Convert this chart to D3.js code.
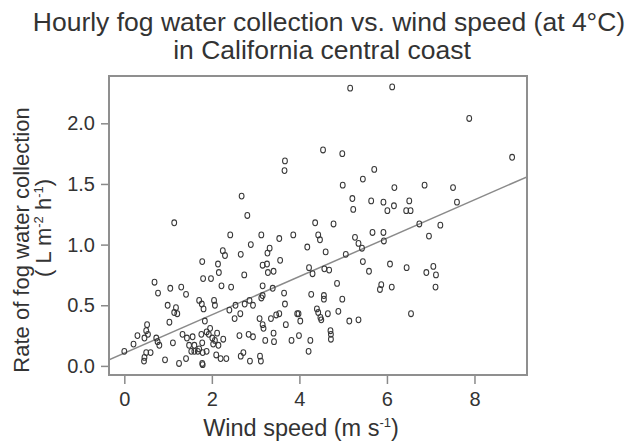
<!DOCTYPE html>
<html>
<head>
<meta charset="utf-8">
<script src="https://cdn.jsdelivr.net/npm/d3@7"></script>
<style>
  html, body { margin: 0; padding: 0; background: #fff; }
  svg { display: block; }
  text { font-family: "Liberation Sans", Arial, Helvetica, sans-serif; fill: #333; }
</style>
</head>
<body>
<svg id="chart" width="631" height="442"></svg>
<script>
// ---- data ----
const titleLines = ["Hourly fog water collection vs. wind speed (at 4\u00B0C)", "in California central coast"];
const xTicks = [0, 2, 4, 6, 8];
const yTicks = [0.0, 0.5, 1.0, 1.5, 2.0];
const xDomain = [-0.35, 9.2];
const yDomain = [-0.075, 2.39];
const fitIntercept = 0.105;
const fitSlope = 0.158;

const windSpeed = [
  3.67,3.66,2.68,2.81,1.14,5.16,6.12,7.88,8.86,4.54,
  4.98,5.71,5.45,4.99,6.17,6.86,7.51,5.21,5.64,5.92,
  6.16,6.51,5.23,6.01,6.44,6.54,7.60,4.36,4.78,6.74,
  7.22,
  1.78,1.80,0.69,0.77,1.05,1.30,1.41,0.99,1.18,1.14,
  1.21,1.71,1.77,1.03,0.52,0.50,0.54,0.46,0.30,0.21,
  0.73,0.76,0.80,1.11,1.33,1.43,1.56,1.48,0.00,0.50,
  0.60,0.46,0.45,0.93,1.25,1.41,1.60,1.68,1.76,1.78,
  1.60,1.53,1.71,
  2.42,3.13,3.54,3.86,2.89,2.25,2.30,2.66,3.32,3.27,
  3.56,3.16,3.26,2.14,2.16,2.74,3.28,3.41,1.98,2.22,
  2.44,3.16,3.39,3.16,3.13,3.65,3.67,2.05,2.07,1.81,
  2.54,2.75,2.86,2.94,2.40,2.52,2.65,1.84,3.09,3.16,
  3.35,3.47,3.54,3.95,3.69,1.88,1.93,2.01,2.07,2.26,
  2.63,2.84,2.94,3.18,3.41,3.22,3.42,3.82,3.99,1.78,
  2.15,1.88,1.79,2.10,2.33,2.72,2.66,2.87,3.10,3.12,
  2.20,1.79,1.96,2.12,2.03,
  5.67,5.92,5.27,4.43,4.47,4.18,4.60,5.35,5.93,5.43,
  5.06,5.45,5.59,6.07,4.22,4.30,4.57,4.68,4.86,5.87,
  5.84,6.11,4.27,4.56,4.56,4.98,3.98,4.02,4.40,4.43,
  4.48,4.50,4.65,4.89,5.14,5.35,4.71,4.72,4.72,4.25,
  4.21,
  6.96,6.45,6.90,7.06,7.12,7.11,6.55
];

const collectionRate = [
  1.69,1.61,1.40,1.24,1.18,2.29,2.30,2.04,1.72,1.78,
  1.75,1.62,1.54,1.49,1.47,1.49,1.47,1.38,1.36,1.35,
  1.32,1.36,1.29,1.28,1.28,1.28,1.35,1.18,1.17,1.17,
  1.16,
  0.86,0.72,0.69,0.60,0.64,0.65,0.59,0.50,0.48,0.44,
  0.43,0.54,0.51,0.36,0.34,0.29,0.26,0.23,0.25,0.18,
  0.23,0.20,0.17,0.19,0.26,0.23,0.24,0.17,0.12,0.11,
  0.11,0.07,0.04,0.05,0.02,0.06,0.12,0.12,0.26,0.02,
  0.17,0.12,0.14,
  1.08,1.08,1.05,1.08,1.00,0.95,0.91,0.92,0.97,0.93,
  0.87,0.83,0.84,0.84,0.77,0.75,0.77,0.78,0.72,0.66,
  0.65,0.66,0.64,0.58,0.56,0.60,0.51,0.54,0.50,0.47,
  0.50,0.51,0.54,0.50,0.46,0.39,0.43,0.37,0.39,0.34,
  0.39,0.42,0.43,0.43,0.34,0.28,0.26,0.23,0.21,0.22,
  0.25,0.26,0.24,0.31,0.27,0.21,0.20,0.21,0.25,0.19,
  0.17,0.12,0.11,0.09,0.06,0.11,0.08,0.04,0.08,0.04,
  0.06,0.01,0.31,0.27,0.18,
  1.10,1.10,1.06,1.08,1.04,0.98,0.94,1.01,1.03,0.97,
  0.92,0.86,0.78,0.84,0.81,0.76,0.80,0.79,0.68,0.67,
  0.63,0.65,0.59,0.58,0.55,0.55,0.43,0.37,0.47,0.44,
  0.40,0.38,0.43,0.45,0.37,0.38,0.29,0.26,0.22,0.21,
  0.12,
  1.07,0.81,0.77,0.82,0.75,0.65,0.43
];

// ---- layout ----
const svg = d3.select("#chart");
const plot = { left: 109, right: 527, top: 76, bottom: 375 };

const x = d3.scaleLinear().domain(xDomain).range([plot.left, plot.right]);
const y = d3.scaleLinear().domain(yDomain).range([plot.bottom, plot.top]);

// title
svg.append("text")
  .attr("x", 329).attr("y", 31)
  .attr("text-anchor", "middle")
  .style("font-size", "26.5px")
  .text(titleLines[0]);
svg.append("text")
  .attr("x", 322).attr("y", 59)
  .attr("text-anchor", "middle")
  .style("font-size", "26.5px")
  .text(titleLines[1]);

// clip for data
svg.append("defs").append("clipPath").attr("id", "plotclip")
  .append("rect")
  .attr("x", plot.left).attr("y", plot.top)
  .attr("width", plot.right - plot.left).attr("height", plot.bottom - plot.top);

// regression line
const fitX = xDomain;
svg.append("line")
  .attr("clip-path", "url(#plotclip)")
  .attr("x1", x(fitX[0])).attr("y1", y(fitIntercept + fitSlope * fitX[0]))
  .attr("x2", x(fitX[1])).attr("y2", y(fitIntercept + fitSlope * fitX[1]))
  .attr("stroke", "#8a8a8a").attr("stroke-width", 1.5);

// points
const pts = windSpeed.map((w, i) => ({ w, r: collectionRate[i] }));
svg.append("g").attr("clip-path", "url(#plotclip)")
  .selectAll("ellipse").data(pts).enter().append("ellipse")
  .attr("cx", d => x(d.w)).attr("cy", d => y(d.r))
  .attr("rx", 2.4).attr("ry", 2.9)
  .attr("fill", "none").attr("stroke", "#383838").attr("stroke-width", 1.05);

// axes
const xAxis = d3.axisBottom(x).tickValues(xTicks).tickFormat(d3.format("d")).tickSize(9).tickPadding(8);
const yAxis = d3.axisLeft(y).tickValues(yTicks).tickFormat(d3.format(".1f")).tickSize(8).tickPadding(6);

const gx = svg.append("g").attr("transform", `translate(0,${plot.bottom})`).call(xAxis);
const gy = svg.append("g").attr("transform", `translate(${plot.left},0)`).call(yAxis);
[gx, gy].forEach(g => {
  g.select(".domain").remove();
  g.selectAll(".tick line").attr("stroke", "#8a8a8a").attr("stroke-width", 1.5);
  g.selectAll(".tick text").style("font-size", "20px").style("font-family", '"Liberation Sans", Arial, sans-serif').attr("fill", "#333");
});

// frame
svg.append("rect")
  .attr("x", plot.left).attr("y", plot.top)
  .attr("width", plot.right - plot.left).attr("height", plot.bottom - plot.top)
  .attr("fill", "none").attr("stroke", "#8f8f8f").attr("stroke-width", 2);

// x axis title
const xt = svg.append("text")
  .attr("x", 301).attr("y", 436)
  .attr("text-anchor", "middle")
  .style("font-size", "23.5px");
xt.append("tspan").text("Wind speed (m s");
xt.append("tspan").attr("dy", -9).style("font-size", "13px").text("-1");
xt.append("tspan").attr("dy", 9).text(")");

// y axis title
svg.append("text")
  .attr("transform", "translate(29,240) rotate(-90)")
  .attr("text-anchor", "middle")
  .style("font-size", "22px")
  .text("Rate of fog water collection");
const yt2 = svg.append("text")
  .attr("transform", "translate(51,228) rotate(-90)")
  .attr("text-anchor", "middle")
  .style("font-size", "22px");
yt2.append("tspan").text("( L m");
yt2.append("tspan").attr("dy", -8).style("font-size", "13px").text("-2");
yt2.append("tspan").attr("dy", 8).text(" h");
yt2.append("tspan").attr("dy", -8).style("font-size", "13px").text("-1");
yt2.append("tspan").attr("dy", 8).text(")");
</script>
</body>
</html>
